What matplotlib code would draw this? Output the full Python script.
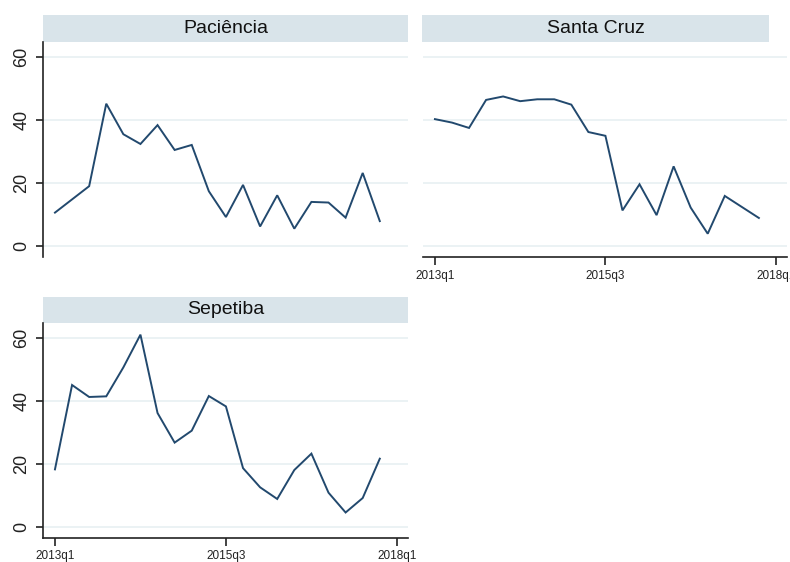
import matplotlib
matplotlib.use("Agg")
import matplotlib.pyplot as plt

plt.rcParams['font.family'] = ['Liberation Sans', 'DejaVu Sans']

quarters = list(range(20))  # 2013q1 .. 2017q4
tick_pos = [0, 10, 20]
tick_labels = ["2013q1", "2015q3", "2018q1"]
y_ticks = [0, 20, 40, 60]

paciencia = [10.6, 14.8, 19.0, 45.2, 35.5, 32.4, 38.4, 30.5, 32.1, 17.4,
             9.2, 19.4, 6.2, 16.1, 5.5, 14.0, 13.8, 9.0, 23.2, 7.9]
santa_cruz = [40.3, 39.2, 37.5, 46.4, 47.5, 46.0, 46.6, 46.6, 44.9, 36.2,
              35.0, 11.3, 19.6, 9.8, 25.3, 12.2, 3.9, 15.9, 12.4, 8.9]
sepetiba = [18.3, 45.1, 41.3, 41.5, 50.7, 61.1, 36.2, 26.8, 30.6, 41.6,
            38.3, 18.7, 12.6, 8.9, 18.1, 23.3, 10.9, 4.6, 9.2, 21.7]

W, H = 790, 562
LINE = "#22496e"
STRIP = "#d9e4ea"
GRID = "#e8f0f2"

fig = plt.figure(figsize=(W / 100, H / 100), dpi=100)


def px_axes(x0, y0, x1, y1):
    return fig.add_axes([x0 / W, 1 - y1 / H, (x1 - x0) / W, (y1 - y0) / H])


def strip(x0, y0, x1, y1, title):
    s = px_axes(x0, y0, x1, y1)
    s.set_facecolor(STRIP)
    for sp in s.spines.values():
        sp.set_visible(False)
    s.set_xticks([])
    s.set_yticks([])
    s.text(0.5, 0.5, title, ha="center", va="center", fontsize=14,
           color="#111111", transform=s.transAxes)


def panel(box, values, show_y, show_x):
    ax = px_axes(*box)
    ax.plot(quarters, values, color=LINE, lw=1.4, solid_joinstyle="miter")
    ax.set_xlim(-0.7, 20.65)
    ax.set_ylim(-3.5, 64.8)
    ax.set_yticks(y_ticks)
    ax.grid(axis="y", color=GRID, lw=1.2)
    ax.set_axisbelow(True)
    for sp in ["top", "right"]:
        ax.spines[sp].set_visible(False)
    ax.spines["left"].set_visible(show_y)
    ax.spines["bottom"].set_visible(show_x)
    for sp in ["left", "bottom"]:
        ax.spines[sp].set_color("#222222")
        ax.spines[sp].set_linewidth(1.2)
    if show_y:
        ax.tick_params(axis="y", length=5, width=1.2, color="#222222",
                       labelsize=13, labelcolor="#222222", pad=4)
        for lab in ax.get_yticklabels():
            lab.set_rotation(90)
            lab.set_va("center")
    else:
        ax.tick_params(axis="y", left=False, labelleft=False)
    if show_x:
        ax.set_xticks(tick_pos)
        ax.set_xticklabels(tick_labels)
        ax.tick_params(axis="x", length=6, width=1.2, color="#222222",
                       labelsize=8.5, labelcolor="#222222", pad=3)
    else:
        ax.set_xticks([])
    return ax


strip(43, 15, 408, 42, "Paciência")
panel((43, 42, 408, 257), paciencia, True, False)

strip(422, 15, 769, 42, "Santa Cruz")
panel((423, 42, 787, 257), santa_cruz, False, True)

strip(43, 297, 408, 323, "Sepetiba")
panel((43, 323, 408, 538), sepetiba, True, True)

fig.savefig("out.png", dpi=100)
